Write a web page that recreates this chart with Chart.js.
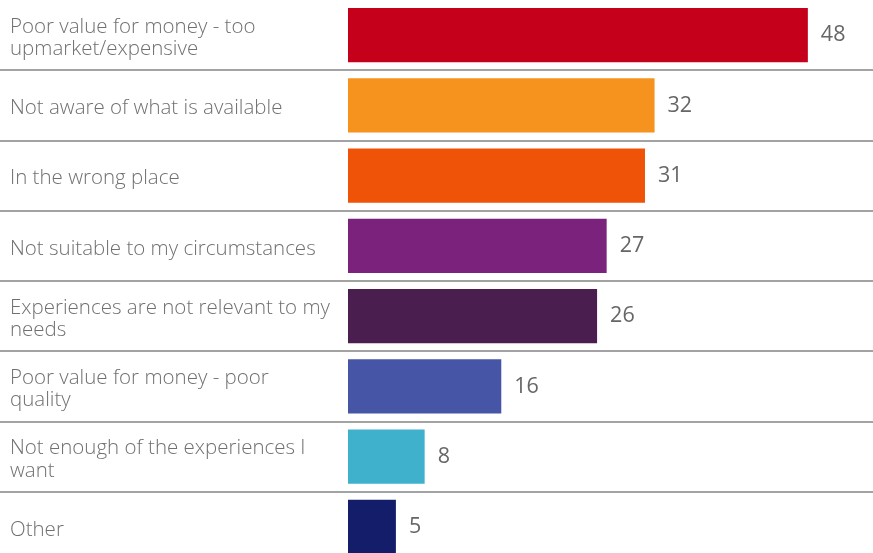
<!DOCTYPE html>
<html>
<head>
<meta charset="utf-8">
<script src="https://cdn.jsdelivr.net/npm/chart.js@4"></script>
<style>
html, body { margin: 0; padding: 0; background: #fff; overflow: hidden; }
#wrap { width: 873px; height: 562px; }
</style>
</head>
<body>
<div id="wrap"><canvas id="myChart"></canvas></div>
<script>
//categories (multi-line labels as arrays)
var categories = [
    ['Poor value for money - too', 'upmarket/expensive'],
    'Not aware of what is available',
    'In the wrong place',
    'Not suitable to my circumstances',
    ['Experiences are not relevant to my', 'needs'],
    ['Poor value for money - poor', 'quality'],
    ['Not enough of the experiences I', 'want'],
    'Other'
];
//values
var values = [48, 32, 31, 27, 26, 16, 8, 5];
//bar colours
var bar_colors = ['#c4001a', '#f6921e', '#ef5307', '#7b227d', '#4b1e50', '#4655a6', '#3fb1cd', '#141d6a'];

//value label next to each bar
var value_label_plugin = {
    id: 'value_label',
    afterDatasetsDraw: function(chart){
        var ctx = chart.ctx;
        var meta = chart.getDatasetMeta(0);
        ctx.save();
        ctx.font = '21.5px "Open Sans"';
        ctx.fillStyle = '#666666';
        ctx.textAlign = 'left';
        ctx.textBaseline = 'middle';
        meta.data.forEach(function(bar, i){
            ctx.fillText(String(values[i]), bar.x + 13, bar.y);
        });
        ctx.restore();
    }
};

var ctx = document.getElementById('myChart');
var the_chart = new Chart(ctx, {
    type: 'bar',
    data: {
        labels: categories,
        datasets: [{
            data: values,
            backgroundColor: bar_colors,
            borderWidth: 0,
            barPercentage: 0.77,
            categoryPercentage: 1
        }]
    },
    options: {
        indexAxis: 'y',
        responsive: true,
        maintainAspectRatio: false,
        animation: false,
        layout: { autoPadding: false, padding: { left: 10, right: 0, top: 0, bottom: 0 } },
        plugins: {
            legend: { display: false },
            tooltip: { enabled: false }
        },
        scales: {
            x: {
                display: false,
                min: 0,
                max: 54.8
            },
            y: {
                border: { display: false },
                grid: {
                    //no line at the very top
                    color: function(c){ return c.index === 0 ? 'rgba(0,0,0,0)' : '#a3a3a3'; },
                    lineWidth: 2,
                    tickLength: 348,
                    drawTicks: true
                },
                ticks: {
                    crossAlign: 'far',
                    labelOffset: 3,
                    color: '#707070',
                    font: { family: '"Open Sans"', size: 20.5, weight: 300, lineHeight: 1.1 }
                },
                afterFit: function(scale){
                    scale.width = 338;
                    scale.paddingTop = 0;
                    scale.paddingBottom = 0;
                }
            }
        }
    },
    plugins: [value_label_plugin]
});
</script>
</body>
</html>
